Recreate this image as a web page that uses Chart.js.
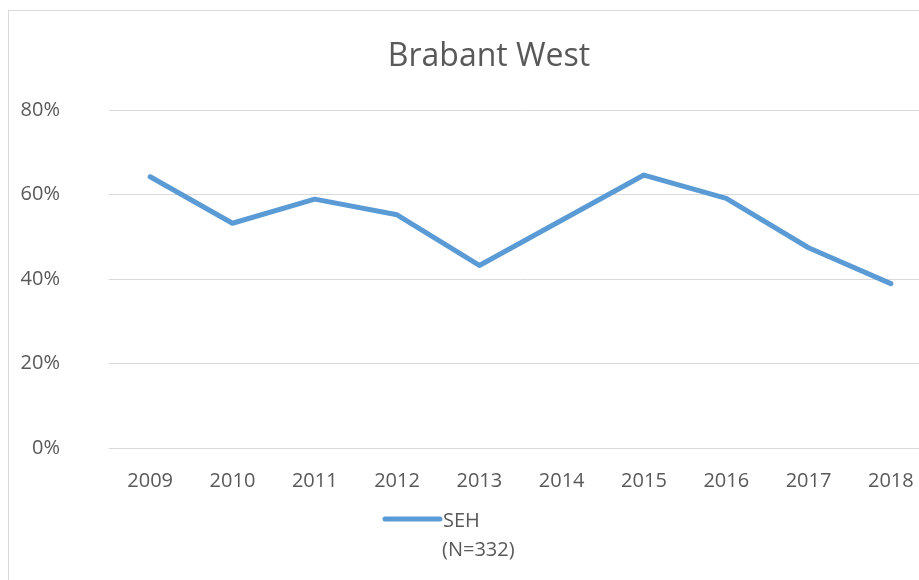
<!DOCTYPE html>
<html>
<head>
<meta charset="utf-8">
<script src="https://cdn.jsdelivr.net/npm/chart.js@4"></script>
<style>
  html, body { margin: 0; padding: 0; background: #fff; }
  #wrap { position: relative; width: 919px; height: 580px; overflow: hidden; }
  #frame { position: absolute; left: 8px; top: 10px; width: 1000px; height: 700px; border: 1px solid #d9d9d9; box-sizing: border-box; }
  #cv { position: absolute; left: 0; top: 0; }
</style>
</head>
<body>
<div id="wrap">
  <div id="frame"></div>
  <canvas id="cv" width="978" height="580" style="width:978px;height:580px"></canvas>
</div>
<script>
const titleText = 'Brabant West';
const years = ['2009','2010','2011','2012','2013','2014','2015','2016','2017','2018'];
const sehValues = [64.2, 53.2, 58.9, 55.2, 43.2, 53.9, 64.6, 59.1, 47.4, 38.9];
const seriesLabel = ['SEH', '(N=332)'];
const yTicks = [0, 20, 40, 60, 80];

const FONT = "'Open Sans', sans-serif";
const TXT = '#595959';
const LINE = '#5B9BD5';

const legendPlugin = {
  id: 'customLegend',
  afterDraw(chart) {
    const ctx = chart.ctx;
    const a = chart.chartArea;
    const x0 = a.left + 276, x1 = a.left + 331, ly = a.bottom + 71;
    ctx.save();
    ctx.strokeStyle = LINE;
    ctx.lineWidth = 5;
    ctx.lineCap = 'round';
    ctx.beginPath();
    ctx.moveTo(x0, ly);
    ctx.lineTo(x1, ly);
    ctx.stroke();
    ctx.fillStyle = TXT;
    ctx.font = "20px " + FONT;
    ctx.textBaseline = 'alphabetic';
    ctx.textAlign = 'left';
    ctx.fillText(seriesLabel[0], x1 + 3, ly + 8);
    ctx.fillText(seriesLabel[1], x1 + 2, ly + 37);
    ctx.restore();
  }
};

new Chart(document.getElementById('cv'), {
  type: 'line',
  data: {
    labels: years,
    datasets: [{
      label: seriesLabel.join(' '),
      data: sehValues,
      borderColor: LINE,
      backgroundColor: LINE,
      borderWidth: 5,
      borderCapStyle: 'round',
      borderJoinStyle: 'round',
      pointRadius: 0,
      pointHoverRadius: 0,
      tension: 0,
      fill: false,
      yAxisID: 'y'
    }]
  },
  options: {
    responsive: false,
    animation: false,
    events: [],
    layout: { padding: { left: 0, right: 0, top: 0, bottom: 92 } },
    plugins: {
      legend: { display: false },
      tooltip: { enabled: false },
      title: {
        display: true,
        text: titleText,
        color: TXT,
        font: { family: FONT, size: 32, weight: 'normal', lineHeight: 1.2 },
        padding: { top: 38, bottom: 33.6 }
      }
    },
    scales: {
      x: {
        offset: true,
        grid: { display: false, drawTicks: false },
        border: { display: true, color: '#d9d9d9', width: 1 },
        ticks: { color: TXT, font: { family: FONT, size: 20 }, padding: 21, maxRotation: 0, autoSkip: false },
        afterFit(s) { s.height = 40; }
      },
      y: {
        position: 'left',
        min: 0,
        max: 80,
        afterBuildTicks(s) { s.ticks = yTicks.map(v => ({ value: v })); },
        grid: { color: '#d9d9d9', lineWidth: 1, drawTicks: false },
        border: { display: false },
        ticks: { color: TXT, font: { family: FONT, size: 20 }, padding: 49, callback: v => v + '%' },
        afterFit(s) { s.width = 109; }
      },
      ySpace: {
        position: 'right',
        min: 0,
        max: 80,
        grid: { display: false, drawTicks: false },
        border: { display: false },
        ticks: { display: false },
        afterFit(s) { s.width = 46; }
      }
    }
  },
  plugins: [legendPlugin]
});
</script>
</body>
</html>
